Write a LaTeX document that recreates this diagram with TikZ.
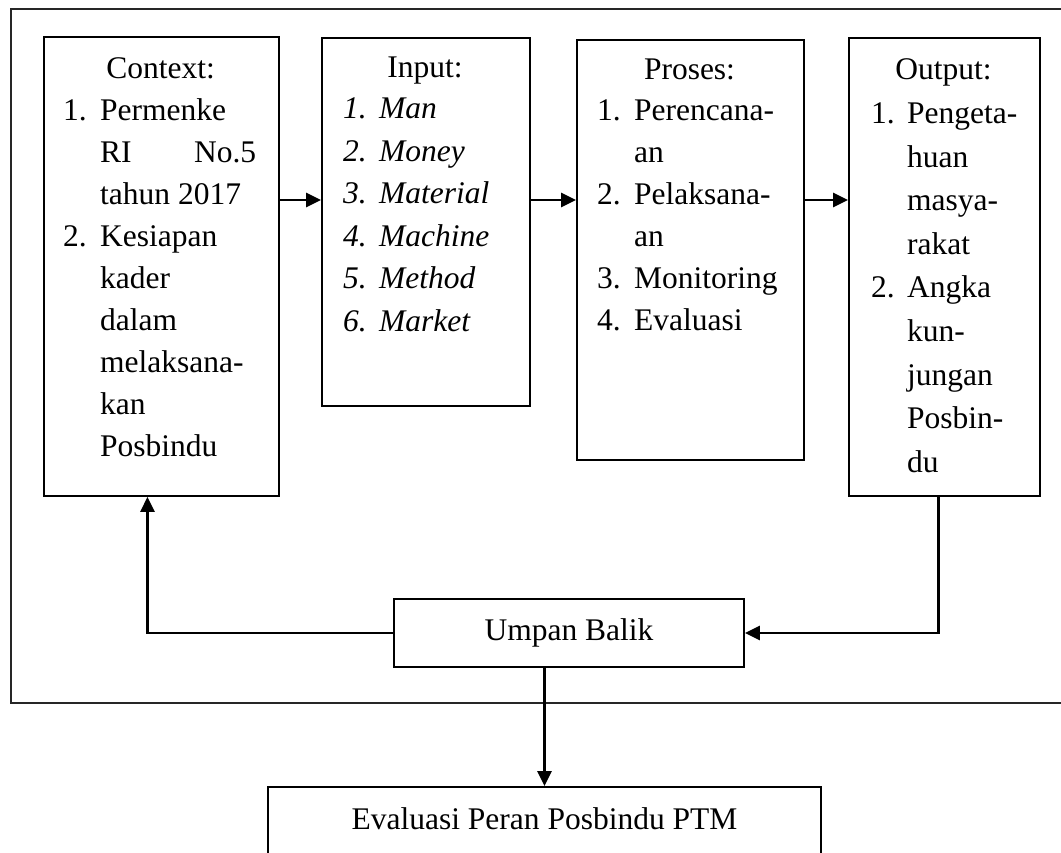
\documentclass[tikz,border=0pt]{standalone}
\usepackage{fontspec}
\setmainfont{Liberation Serif}
\usetikzlibrary{arrows.meta,positioning}

\begin{document}
\begin{tikzpicture}[
  x=1pt, y=-1pt,
  every node/.style={font=\fontsize{31.5}{42}\selectfont, inner sep=0pt},
  kotak/.style={draw, line width=1.9pt, anchor=north west},
  judul/.style={anchor=base},
  daftar/.style={anchor=base west, align=left},
  panah/.style={-{Triangle[length=15pt,width=14pt]}, line width=2.6pt}
]
\useasboundingbox (0,0) rectangle (1061,853);
\clip (0,0) rectangle (1061,853);

% Bingkai luar
\draw[line width=1.8pt, black!85] (1070,9) -- (11,9) -- (11,703) -- (1070,703);

% Kotak utama
\node[kotak, minimum width=235pt, minimum height=459pt] (context) at (43,36) {};
\node[kotak, minimum width=208pt, minimum height=368pt] (input) at (321,37) {};
\node[kotak, minimum width=227pt, minimum height=420pt] (proses) at (576,39) {};
\node[kotak, minimum width=191pt, minimum height=458pt] (output) at (848,37) {};

% Judul kotak
\node[judul] (contextJudul) at (160.5,79) {Context:};
\node[judul] (inputJudul) at (425,78) {Input:};
\node[judul] (prosesJudul) at (689.5,80) {Proses:};
\node[judul] (outputJudul) at (943.5,80) {Output:};

% Isi kotak
\node[daftar] (contextIsi) at (63,121) {\begin{tabular}[t]{@{}p{37pt}@{}l@{}}
1. & Permenke\\
   & \makebox[156pt][l]{RI\hfill No.5}\\
   & tahun 2017\\
2. & Kesiapan\\
   & kader\\
   & dalam\\
   & melaksana-\\
   & kan\\
   & Posbindu
\end{tabular}};

\node[daftar, font=\fontsize{31.5}{42.5}\selectfont\itshape] (inputIsi) at (343,119) {\begin{tabular}[t]{@{}p{36pt}@{}l@{}}
1. & Man\\
2. & Money\\
3. & Material\\
4. & Machine\\
5. & Method\\
6. & Market
\end{tabular}};

\node[daftar] (prosesIsi) at (597,121) {\begin{tabular}[t]{@{}p{37pt}@{}l@{}}
1. & Perencana-\\
   & an\\
2. & Pelaksana-\\
   & an\\
3. & Monitoring\\
4. & Evaluasi
\end{tabular}};

\node[daftar, font=\fontsize{31.5}{43.6}\selectfont] (outputIsi) at (871,123.6) {\begin{tabular}[t]{@{}p{36pt}@{}l@{}}
1. & Pengeta-\\
   & huan\\
   & masya-\\
   & rakat\\
2. & Angka\\
   & kun-\\
   & jungan\\
   & Posbin-\\
   & du
\end{tabular}};

% Umpan balik dan evaluasi
\node[kotak, anchor=center, minimum width=350pt, minimum height=68pt] (umpan) at (569,633) {Umpan Balik};
\node[draw, line width=1.9pt, anchor=base, minimum width=553pt,
  text height=42pt, text depth=80pt] (evaluasi) at (544.5,829) {Evaluasi Peran Posbindu PTM};

% Panah
\coordinate (garis) at (0,200);
\draw[panah] (context.east |- garis) -- (input.west |- garis);
\draw[panah] (input.east |- garis) -- (proses.west |- garis);
\draw[panah] (proses.east |- garis) -- (output.west |- garis);
\draw[panah] ([xshift=-6pt]output.south) |- (umpan.east);
\draw[panah] (umpan.west) -| ([xshift=-14pt]context.south);
\draw[panah] (umpan.south -| evaluasi.north) -- (evaluasi.north);

\end{tikzpicture}
\end{document}
